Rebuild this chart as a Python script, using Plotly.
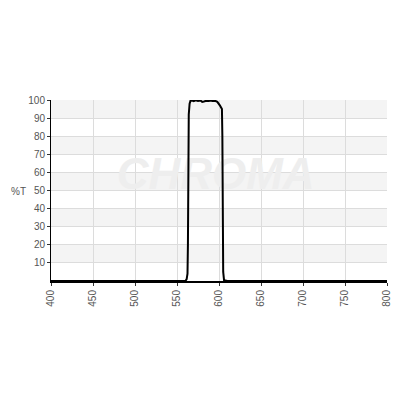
import plotly.graph_objects as go

# Transmission spectrum (wavelength nm, %T)
wavelength = [400, 560, 561.5, 562.5, 563, 563.5, 564, 565, 566, 568, 570, 572, 575, 578,
              580, 582, 585, 588, 590, 592, 594, 596, 598, 599, 600, 601, 602, 603,
              603.5, 604, 604.5, 605, 606, 610, 700, 800]
transmission = [0, 0, 1, 4, 20, 60, 92, 98, 99.5, 99.7, 99.4, 99.8, 99.5, 99.7,
                99.0, 99.2, 99.6, 99.4, 99.7, 99.5, 99.6, 99.4, 99.0, 98.5, 97.8, 97.0, 96.3, 95.5,
                95.0, 80, 40, 5, 0.5, 0, 0, 0]

x_ticks = [400, 450, 500, 550, 600, 650, 700, 750, 800]
y_ticks = [10, 20, 30, 40, 50, 60, 70, 80, 90, 100]
band_starts = [10, 30, 50, 70, 90]

fig = go.Figure()

# watermark (drawn first so it sits beneath the curve)
fig.add_trace(go.Scatter(
    x=[596], y=[57], mode="text", text=["<b><i>CHROMA</i></b>"],
    textfont=dict(family="Liberation Sans", size=44, color="#eeeeee"),
    hoverinfo="skip", showlegend=False, cliponaxis=False))

fig.add_trace(go.Scatter(
    x=wavelength, y=transmission, mode="lines",
    line=dict(color="black", width=2), showlegend=False, cliponaxis=False))

shapes = []
for b in band_starts:
    shapes.append(dict(type="rect", xref="paper", yref="y", x0=0, x1=1, y0=b, y1=b + 10,
                       fillcolor="#f4f4f4", line=dict(width=0), layer="below"))

fig.update_layout(
    width=400, height=400,
    margin=dict(l=43, r=21, t=92, b=127),
    paper_bgcolor="white", plot_bgcolor="white",
    shapes=shapes,
    font=dict(family="Liberation Sans", size=10, color="#555555"),
    xaxis=dict(range=[400, 800], tickvals=x_ticks, ticktext=[str(v) for v in x_ticks],
               tickangle=-90, showgrid=True, gridcolor="#dcdcdc", gridwidth=1,
               showline=True, linecolor="black", linewidth=2,
               ticks="outside", ticklen=3, tickcolor="#333", zeroline=False,
               tickfont=dict(size=10, color="#555555")),
    yaxis=dict(range=[0, 100], tickvals=y_ticks, ticktext=[str(v) for v in y_ticks],
               showgrid=True, gridcolor="#dcdcdc", gridwidth=1,
               showline=True, linecolor="black", linewidth=1,
               ticks="outside", ticklen=3, tickcolor="#333", zeroline=False,
               tickfont=dict(size=10, color="#555555")),
    annotations=[dict(text="%T", xref="paper", yref="paper", x=-0.098, y=0.493,
                      xanchor="center", yanchor="middle",
                      showarrow=False, font=dict(size=10, color="#555555"))],
)

fig.write_html("out.html")
